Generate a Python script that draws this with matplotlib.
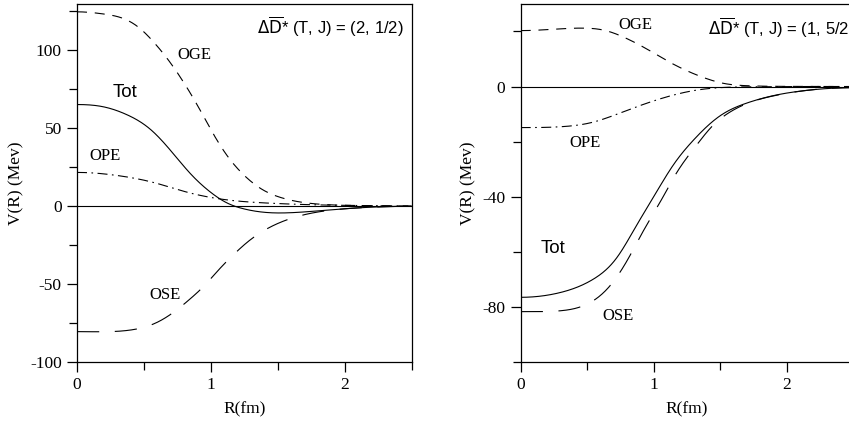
import numpy as np
import matplotlib
matplotlib.use("Agg")
import matplotlib.pyplot as plt
from matplotlib.ticker import MultipleLocator

plt.rcParams['axes.unicode_minus'] = False

# left panel: (T, J) = (2, 1/2)
r1_oge = [0, 0.2, 0.35, 0.47, 0.57, 0.70, 0.80, 0.90, 1.0, 1.12, 1.245, 1.39, 1.52, 1.79, 2.1, 2.5]
v1_oge = [124.4, 123, 120, 113.8, 105.3, 91.5, 78.8, 64.5, 49, 32.5, 20, 10.3, 5.5, 1.3, 0.3, 0]
r1_tot = [0, 0.2, 0.37, 0.55, 0.70, 0.85, 1.0, 1.12, 1.245, 1.44, 1.6, 1.82, 2.19, 2.5]
v1_tot = [65, 63.5, 58.6, 49, 35.5, 20.5, 8.7, 2.0, -1.8, -4.3, -4.3, -3.0, -0.8, -0.2]
r1_ope = [0, 0.32, 0.57, 0.82, 1.07, 1.44, 1.8, 2.2, 2.5]
v1_ope = [21.5, 19.3, 15.1, 8.9, 4.5, 1.8, 0.7, 0.2, 0]
r1_ose = [0, 0.37, 0.6, 0.72, 0.85, 0.95, 1.06, 1.16, 1.28, 1.39, 1.54, 1.67, 1.85, 2.1, 2.5]
v1_ose = [-80.5, -79.8, -74.5, -68.2, -59.2, -51.2, -40.8, -32, -22.7, -16.1, -9.8, -6.2, -3.2, -1.2, -0.2]

# right panel: (T, J) = (1, 5/2)
r2_oge = [0, 0.25, 0.46, 0.63, 0.78, 0.96, 1.11, 1.26, 1.39, 1.52, 1.7, 2.0, 2.5]
v2_oge = [20.3, 20.8, 21.2, 20.4, 17.8, 13.3, 9.1, 5.5, 3.0, 1.2, 0.3, 0.05, 0]
r2_ope = [0, 0.33, 0.53, 0.71, 0.91, 1.11, 1.31, 1.5, 1.8, 2.1, 2.5]
v2_ope = [-14.9, -14.5, -13.1, -10.3, -6.7, -3.6, -1.4, -0.4, -0.1, 0, 0]
r2_tot = [0, 0.295, 0.55, 0.72, 0.87, 1.0, 1.15, 1.3, 1.5, 1.7, 1.9, 2.15, 2.5]
v2_tot = [-76.5, -74.8, -69.8, -62.3, -50.5, -40, -28.3, -19.4, -10.6, -6.0, -3.3, -1.4, -0.4]
r2_ose = [0, 0.295, 0.55, 0.67, 0.80, 0.92, 1.05, 1.17, 1.32, 1.45, 1.55, 1.7, 1.9, 2.15, 2.5]
v2_ose = [-81.7, -81.4, -77.6, -72.4, -63.2, -52.6, -41.8, -31.5, -21.4, -13.9, -10.0, -6.2, -3.4, -1.4, -0.4]


def smooth(x, y):
    # clamped cubic spline, flat slope at both ends
    x = np.asarray(x, float); y = np.asarray(y, float)
    n = len(x)
    h = np.diff(x)
    A = np.zeros((n, n)); b = np.zeros(n)
    A[0, 0], A[0, 1] = 2 * h[0], h[0]
    b[0] = 6 * ((y[1] - y[0]) / h[0])
    A[-1, -2], A[-1, -1] = h[-1], 2 * h[-1]
    b[-1] = -6 * ((y[-1] - y[-2]) / h[-1])
    for i in range(1, n - 1):
        A[i, i - 1], A[i, i], A[i, i + 1] = h[i - 1], 2 * (h[i - 1] + h[i]), h[i]
        b[i] = 6 * ((y[i + 1] - y[i]) / h[i] - (y[i] - y[i - 1]) / h[i - 1])
    M = np.linalg.solve(A, b)
    xs = np.linspace(x[0], x[-1], 500)
    k = np.clip(np.searchsorted(x, xs) - 1, 0, n - 2)
    a = x[k + 1] - xs; c = xs - x[k]; hk = h[k]
    ys = (M[k] * a**3 + M[k + 1] * c**3) / (6 * hk) \
        + (y[k] / hk - M[k] * hk / 6) * a + (y[k + 1] / hk - M[k + 1] * hk / 6) * c
    return xs, ys


serif = 'Liberation Serif'
sans = 'Liberation Sans'
lw = 0.8
ls_oge = (0, (9, 7))
ls_ose = (0, (20, 14))
ls_ope = (0, (9, 4, 1.5, 4))

fig = plt.figure(figsize=(8.49, 4.30), dpi=100)
ax1 = fig.add_axes([0.0907, 0.158, 0.394, 0.833])
ax2 = fig.add_axes([0.6133, 0.158, 0.3916, 0.833])


def style(ax, ylim, major, minor):
    ax.set_xlim(0, 2.5)
    ax.set_ylim(*ylim)
    ax.xaxis.set_major_locator(MultipleLocator(1))
    ax.xaxis.set_minor_locator(MultipleLocator(0.5))
    ax.yaxis.set_major_locator(MultipleLocator(major))
    ax.yaxis.set_minor_locator(MultipleLocator(minor))
    ax.tick_params(which='both', direction='out', top=False, right=False,
                   labelsize=12.5, width=0.9)
    ax.tick_params(which='major', length=7, pad=4)
    ax.tick_params(which='minor', length=6)
    for lab in ax.get_xticklabels() + ax.get_yticklabels():
        lab.set_fontfamily(serif)
    for s in ax.spines.values():
        s.set_linewidth(0.9)
    ax.axhline(0, color='black', lw=lw)
    ax.set_xlabel('R(fm)', fontfamily=serif, fontsize=12.5, labelpad=6)
    ax.set_ylabel('V(R) (Mev)', fontfamily=serif, fontsize=12.5, labelpad=4)


style(ax1, (-100, 129.5), 50, 25)
ax1.plot(*smooth(r1_oge, v1_oge), color='black', lw=lw, ls=ls_oge)
ax1.plot(*smooth(r1_tot, v1_tot), color='black', lw=lw)
ax1.plot(*smooth(r1_ope, v1_ope), color='black', lw=lw, ls=ls_ope)
ax1.plot(*smooth(r1_ose, v1_ose), color='black', lw=lw, ls=ls_ose)
ax1.text(0.88, 97, 'OGE', fontfamily=serif, fontsize=12, ha='center', va='center')
ax1.text(0.36, 72.6, 'Tot', fontfamily=sans, fontsize=13.5, ha='center', va='center')
ax1.text(0.21, 32, 'OPE', fontfamily=serif, fontsize=12, ha='center', va='center')
ax1.text(0.66, -57, 'OSE', fontfamily=serif, fontsize=12, ha='center', va='center')
ax1.text(2.44, 115, r'$\Delta\overline{\mathsf{D}}$* (T, J) = (2, 1/2)', fontfamily=sans,
         fontsize=12, ha='right', va='center')

style(ax2, (-100, 30), 40, 20)
ax2.plot(*smooth(r2_oge, v2_oge), color='black', lw=lw, ls=ls_oge)
ax2.plot(*smooth(r2_ope, v2_ope), color='black', lw=lw, ls=ls_ope)
ax2.plot(*smooth(r2_tot, v2_tot), color='black', lw=lw)
ax2.plot(*smooth(r2_ose, v2_ose), color='black', lw=lw, ls=ls_ose)
ax2.text(0.86, 22.5, 'OGE', fontfamily=serif, fontsize=12, ha='center', va='center')
ax2.text(0.48, -20.5, 'OPE', fontfamily=serif, fontsize=12, ha='center', va='center')
ax2.text(0.24, -58.7, 'Tot', fontfamily=sans, fontsize=13.5, ha='center', va='center')
ax2.text(0.73, -83.3, 'OSE', fontfamily=serif, fontsize=12, ha='center', va='center')
ax2.text(1.41, 21.3, r'$\Delta\overline{\mathsf{D}}$* (T, J) = (1, 5/2)', fontfamily=sans,
         fontsize=12, ha='left', va='center')

fig.savefig('out.png', dpi=100)
